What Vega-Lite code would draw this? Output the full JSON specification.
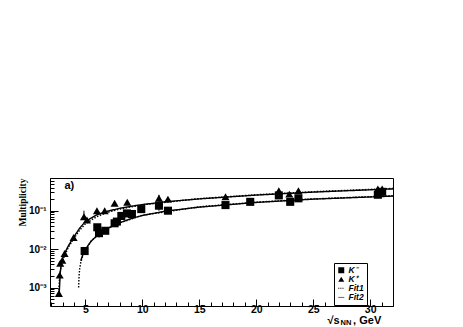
{
  "$schema": "https://vega.github.io/schema/vega-lite/v6.json",
  "autosize": "none",
  "width": 343,
  "height": 128,
  "padding": {"left": 50, "top": 178, "right": 70, "bottom": 21},
  "background": "white",
  "config": {
    "view": {"stroke": "black", "strokeWidth": 1},
    "font": "Liberation Sans",
    "axis": {"domainColor": "black", "tickColor": "black", "labelColor": "black", "titleColor": "black", "labelFont": "Liberation Sans", "labelFontWeight": "bold", "grid": false}
  },
  "datasets": {
    "pts": [
      {"sp": "K⁺", "x": 2.68, "y": 0.0007, "lo": 0.0006, "hi": 0.0008},
      {"sp": "K⁺", "x": 2.75, "y": 0.0021, "lo": 0.0019, "hi": 0.0023},
      {"sp": "K⁺", "x": 2.8, "y": 0.0043, "lo": 0.0039, "hi": 0.0047},
      {"sp": "K⁺", "x": 2.98, "y": 0.0051, "lo": 0.0046, "hi": 0.0056},
      {"sp": "K⁺", "x": 3.18, "y": 0.0077, "lo": 0.007, "hi": 0.0085},
      {"sp": "K⁺", "x": 3.97, "y": 0.02, "lo": 0.018, "hi": 0.022},
      {"sp": "K⁺", "x": 4.88, "y": 0.07, "lo": 0.058, "hi": 0.1},
      {"sp": "K⁺", "x": 5.14, "y": 0.057, "lo": 0.051, "hi": 0.063},
      {"sp": "K⁺", "x": 6.02, "y": 0.1, "lo": 0.09, "hi": 0.11},
      {"sp": "K⁺", "x": 6.7, "y": 0.1, "lo": 0.09, "hi": 0.11},
      {"sp": "K⁺", "x": 7.57, "y": 0.156, "lo": 0.14, "hi": 0.17},
      {"sp": "K⁺", "x": 8.68, "y": 0.166, "lo": 0.15, "hi": 0.18},
      {"sp": "K⁺", "x": 11.46, "y": 0.21, "lo": 0.17, "hi": 0.26},
      {"sp": "K⁺", "x": 12.25, "y": 0.2, "lo": 0.18, "hi": 0.22},
      {"sp": "K⁺", "x": 17.3, "y": 0.23, "lo": 0.21, "hi": 0.25},
      {"sp": "K⁺", "x": 21.98, "y": 0.33, "lo": 0.3, "hi": 0.36},
      {"sp": "K⁺", "x": 22.9, "y": 0.27, "lo": 0.25, "hi": 0.29},
      {"sp": "K⁺", "x": 23.7, "y": 0.33, "lo": 0.3, "hi": 0.36},
      {"sp": "K⁺", "x": 30.67, "y": 0.37, "lo": 0.34, "hi": 0.4},
      {"sp": "K⁺", "x": 31.05, "y": 0.37, "lo": 0.34, "hi": 0.4},
      {"sp": "K⁻", "x": 4.94, "y": 0.0089, "lo": 0.008, "hi": 0.0098},
      {"sp": "K⁻", "x": 6.05, "y": 0.037, "lo": 0.033, "hi": 0.041},
      {"sp": "K⁻", "x": 6.2, "y": 0.026, "lo": 0.02, "hi": 0.033},
      {"sp": "K⁻", "x": 6.75, "y": 0.03, "lo": 0.027, "hi": 0.033},
      {"sp": "K⁻", "x": 7.57, "y": 0.047, "lo": 0.042, "hi": 0.052},
      {"sp": "K⁻", "x": 7.77, "y": 0.052, "lo": 0.04, "hi": 0.062},
      {"sp": "K⁻", "x": 8.16, "y": 0.073, "lo": 0.066, "hi": 0.08},
      {"sp": "K⁻", "x": 8.65, "y": 0.085, "lo": 0.077, "hi": 0.093},
      {"sp": "K⁻", "x": 9.09, "y": 0.082, "lo": 0.074, "hi": 0.09},
      {"sp": "K⁻", "x": 9.91, "y": 0.11, "lo": 0.09, "hi": 0.13},
      {"sp": "K⁻", "x": 11.46, "y": 0.135, "lo": 0.1, "hi": 0.15},
      {"sp": "K⁻", "x": 12.25, "y": 0.1, "lo": 0.09, "hi": 0.11},
      {"sp": "K⁻", "x": 17.3, "y": 0.14, "lo": 0.125, "hi": 0.155},
      {"sp": "K⁻", "x": 19.47, "y": 0.17, "lo": 0.14, "hi": 0.2},
      {"sp": "K⁻", "x": 21.98, "y": 0.25, "lo": 0.23, "hi": 0.27},
      {"sp": "K⁻", "x": 22.98, "y": 0.17, "lo": 0.155, "hi": 0.185},
      {"sp": "K⁻", "x": 23.7, "y": 0.21, "lo": 0.19, "hi": 0.23},
      {"sp": "K⁻", "x": 30.67, "y": 0.26, "lo": 0.24, "hi": 0.28},
      {"sp": "K⁻", "x": 31.05, "y": 0.31, "lo": 0.28, "hi": 0.34}
    ],
    "fits": [
      {"sp": "K⁺", "fit": "Fit2", "x": 2.7, "y": 0.0006},
      {"sp": "K⁺", "fit": "Fit2", "x": 2.8, "y": 0.0025},
      {"sp": "K⁺", "fit": "Fit2", "x": 2.9, "y": 0.0042},
      {"sp": "K⁺", "fit": "Fit2", "x": 3.0, "y": 0.0055},
      {"sp": "K⁺", "fit": "Fit2", "x": 3.2, "y": 0.008},
      {"sp": "K⁺", "fit": "Fit2", "x": 3.5, "y": 0.012},
      {"sp": "K⁺", "fit": "Fit2", "x": 4.0, "y": 0.021},
      {"sp": "K⁺", "fit": "Fit2", "x": 4.5, "y": 0.035},
      {"sp": "K⁺", "fit": "Fit2", "x": 5.0, "y": 0.052},
      {"sp": "K⁺", "fit": "Fit2", "x": 6.0, "y": 0.078},
      {"sp": "K⁺", "fit": "Fit2", "x": 7.0, "y": 0.098},
      {"sp": "K⁺", "fit": "Fit2", "x": 8.0, "y": 0.115},
      {"sp": "K⁺", "fit": "Fit2", "x": 9.0, "y": 0.13},
      {"sp": "K⁺", "fit": "Fit2", "x": 10.0, "y": 0.144},
      {"sp": "K⁺", "fit": "Fit2", "x": 12.0, "y": 0.17},
      {"sp": "K⁺", "fit": "Fit2", "x": 15.0, "y": 0.203},
      {"sp": "K⁺", "fit": "Fit2", "x": 20.0, "y": 0.255},
      {"sp": "K⁺", "fit": "Fit2", "x": 25.0, "y": 0.305},
      {"sp": "K⁺", "fit": "Fit2", "x": 32.0, "y": 0.37},
      {"sp": "K⁺", "fit": "Fit1", "x": 2.65, "y": 0.0006},
      {"sp": "K⁺", "fit": "Fit1", "x": 2.75, "y": 0.002},
      {"sp": "K⁺", "fit": "Fit1", "x": 2.9, "y": 0.004},
      {"sp": "K⁺", "fit": "Fit1", "x": 3.0, "y": 0.005},
      {"sp": "K⁺", "fit": "Fit1", "x": 3.5, "y": 0.011},
      {"sp": "K⁺", "fit": "Fit1", "x": 4.0, "y": 0.019},
      {"sp": "K⁺", "fit": "Fit1", "x": 4.5, "y": 0.031},
      {"sp": "K⁺", "fit": "Fit1", "x": 5.0, "y": 0.045},
      {"sp": "K⁺", "fit": "Fit1", "x": 6.0, "y": 0.07},
      {"sp": "K⁺", "fit": "Fit1", "x": 7.0, "y": 0.091},
      {"sp": "K⁺", "fit": "Fit1", "x": 8.0, "y": 0.11},
      {"sp": "K⁺", "fit": "Fit1", "x": 10.0, "y": 0.142},
      {"sp": "K⁺", "fit": "Fit1", "x": 15.0, "y": 0.206},
      {"sp": "K⁺", "fit": "Fit1", "x": 20.0, "y": 0.26},
      {"sp": "K⁺", "fit": "Fit1", "x": 25.0, "y": 0.312},
      {"sp": "K⁺", "fit": "Fit1", "x": 32.0, "y": 0.38},
      {"sp": "K⁻", "fit": "Fit2", "x": 4.6, "y": 0.005},
      {"sp": "K⁻", "fit": "Fit2", "x": 4.8, "y": 0.0075},
      {"sp": "K⁻", "fit": "Fit2", "x": 5.0, "y": 0.0098},
      {"sp": "K⁻", "fit": "Fit2", "x": 5.5, "y": 0.016},
      {"sp": "K⁻", "fit": "Fit2", "x": 6.0, "y": 0.022},
      {"sp": "K⁻", "fit": "Fit2", "x": 6.5, "y": 0.028},
      {"sp": "K⁻", "fit": "Fit2", "x": 7.0, "y": 0.035},
      {"sp": "K⁻", "fit": "Fit2", "x": 8.0, "y": 0.048},
      {"sp": "K⁻", "fit": "Fit2", "x": 9.0, "y": 0.062},
      {"sp": "K⁻", "fit": "Fit2", "x": 10.0, "y": 0.075},
      {"sp": "K⁻", "fit": "Fit2", "x": 12.0, "y": 0.097},
      {"sp": "K⁻", "fit": "Fit2", "x": 15.0, "y": 0.124},
      {"sp": "K⁻", "fit": "Fit2", "x": 20.0, "y": 0.164},
      {"sp": "K⁻", "fit": "Fit2", "x": 25.0, "y": 0.2},
      {"sp": "K⁻", "fit": "Fit2", "x": 32.0, "y": 0.24},
      {"sp": "K⁻", "fit": "Fit1", "x": 4.41, "y": 0.001},
      {"sp": "K⁻", "fit": "Fit1", "x": 4.45, "y": 0.002},
      {"sp": "K⁻", "fit": "Fit1", "x": 4.5, "y": 0.003},
      {"sp": "K⁻", "fit": "Fit1", "x": 4.6, "y": 0.0045},
      {"sp": "K⁻", "fit": "Fit1", "x": 4.8, "y": 0.007},
      {"sp": "K⁻", "fit": "Fit1", "x": 5.0, "y": 0.0095},
      {"sp": "K⁻", "fit": "Fit1", "x": 5.5, "y": 0.016},
      {"sp": "K⁻", "fit": "Fit1", "x": 6.0, "y": 0.022},
      {"sp": "K⁻", "fit": "Fit1", "x": 7.0, "y": 0.035},
      {"sp": "K⁻", "fit": "Fit1", "x": 8.0, "y": 0.048},
      {"sp": "K⁻", "fit": "Fit1", "x": 10.0, "y": 0.076},
      {"sp": "K⁻", "fit": "Fit1", "x": 15.0, "y": 0.126},
      {"sp": "K⁻", "fit": "Fit1", "x": 20.0, "y": 0.167},
      {"sp": "K⁻", "fit": "Fit1", "x": 25.0, "y": 0.203},
      {"sp": "K⁻", "fit": "Fit1", "x": 32.0, "y": 0.245}
    ],
    "one": [{"k": 1}]
  },
  "layer": [
    {
      "data": {"name": "pts"},
      "mark": {"type": "rule", "color": "black", "strokeWidth": 1},
      "encoding": {
        "x": {"field": "x", "type": "quantitative", "scale": {"domain": [1.9, 32], "nice": false, "zero": false},
          "axis": {"orient": "bottom", "values": [5, 10, 15, 20, 25, 30], "tickSize": -7, "labelPadding": 5, "labelFontSize": 10.5, "title": null, "domain": false}},
        "y": {"field": "lo", "type": "quantitative", "scale": {"type": "log", "domain": [0.00033, 0.71], "nice": false},
          "axis": {"orient": "left", "values": [0.001, 0.01, 0.1], "tickSize": -8, "labelPadding": 12, "labelFontSize": 10,
            "labelExpr": "datum.value == 0.1 ? '10⁻¹' : datum.value == 0.01 ? '10⁻²' : '10⁻³'",
            "title": "Multiplicity", "titleFont": "Liberation Sans Narrow", "titleFontSize": 9.5, "titleFontWeight": "bold", "titleX": -28, "titleY": 0, "titleAlign": "right", "titleAngle": -90, "titleBaseline": "middle", "domain": false}},
        "y2": {"field": "hi"}
      }
    },
    {
      "data": {"name": "fits"},
      "mark": {"type": "line", "color": "black", "strokeWidth": 1.4},
      "encoding": {
        "x": {"field": "x", "type": "quantitative",
          "axis": {"orient": "bottom", "values": [2,3,4,6,7,8,9,11,12,13,14,16,17,18,19,21,22,23,24,26,27,28,29,31,32], "tickSize": -4, "labels": false, "title": null, "domain": false}},
        "y": {"field": "y", "type": "quantitative",
          "axis": {"orient": "left", "values": [0.0004,0.0005,0.0006,0.0007,0.0008,0.0009,0.002,0.003,0.004,0.005,0.006,0.007,0.008,0.009,0.02,0.03,0.04,0.05,0.06,0.07,0.08,0.09,0.2,0.3,0.4,0.5,0.6,0.7], "tickSize": -4, "labels": false, "title": null, "domain": false}},
        "detail": {"field": "sp"},
        "strokeDash": {"field": "fit", "type": "nominal", "scale": {"domain": ["Fit1", "Fit2"], "range": [[1.5, 1.5], [1, 0]]}, "legend": null},
        "order": {"field": "x", "type": "quantitative"}
      }
    },
    {
      "data": {"name": "pts"},
      "mark": {"type": "point", "filled": true, "color": "black", "opacity": 1, "size": 65},
      "encoding": {
        "x": {"field": "x", "type": "quantitative", "axis": null},
        "y": {"field": "y", "type": "quantitative", "axis": null},
        "shape": {"field": "sp", "type": "nominal",
          "scale": {"domain": ["K⁻", "K⁺", "Fit1", "Fit2"], "range": ["square", "triangle-up", "M-1,-0.13h0.35v0.26h-0.35zM-0.3,-0.13h0.35v0.26h-0.35zM0.4,-0.13h0.35v0.26h-0.35z", "M-1,-0.1h2v0.2h-2z"]},
          "legend": {"title": null, "orient": "none", "legendX": 284, "legendY": 85, "padding": 3, "strokeColor": "black", "fillColor": "white", "cornerRadius": 0,
            "labelFontSize": 8.5, "labelFontStyle": "italic", "labelFontWeight": "bold", "labelFont": "Liberation Sans", "symbolSize": 36, "symbolFillColor": "black", "symbolStrokeColor": "black", "symbolStrokeWidth": 0, "rowPadding": 0, "labelOffset": 3, "symbolOffset": 0, "labelLimit": 60}}
      }
    },
    {
      "data": {"name": "one"},
      "mark": {"type": "text", "fontWeight": "bold", "fontSize": 11, "align": "center", "baseline": "middle"},
      "encoding": {"x": {"datum": 3.6, "type": "quantitative", "axis": null}, "y": {"datum": 0.44, "type": "quantitative", "axis": null}, "text": {"value": "a)"}}
    },
    {
      "data": {"name": "one"},
      "mark": {"type": "text", "fontWeight": "bold", "fontSize": 11, "align": "left", "baseline": "middle"},
      "encoding": {"x": {"datum": 26.25, "type": "quantitative", "axis": null}, "y": {"datum": 0.000136, "type": "quantitative", "axis": null}, "text": {"value": "√s"}}
    },
    {
      "data": {"name": "one"},
      "mark": {"type": "text", "fontWeight": "bold", "fontSize": 7.5, "align": "left", "baseline": "middle"},
      "encoding": {"x": {"datum": 27.4, "type": "quantitative", "axis": null}, "y": {"datum": 0.000117, "type": "quantitative", "axis": null}, "text": {"value": "NN"}}
    },
    {
      "data": {"name": "one"},
      "mark": {"type": "text", "fontWeight": "bold", "fontSize": 11, "align": "left", "baseline": "middle"},
      "encoding": {"x": {"datum": 28.5, "type": "quantitative", "axis": null}, "y": {"datum": 0.000136, "type": "quantitative", "axis": null}, "text": {"value": ", GeV"}}
    }
  ],
  "resolve": {"axis": {"x": "independent", "y": "independent"}}
}
